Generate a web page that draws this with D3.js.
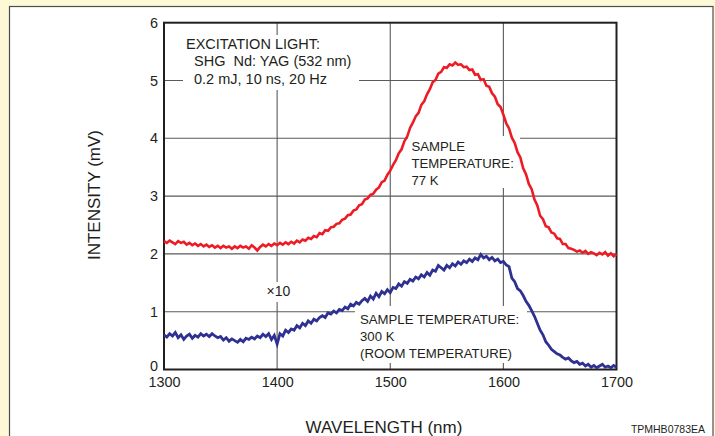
<!DOCTYPE html>
<html>
<head>
<meta charset="utf-8">
<script src="https://cdn.jsdelivr.net/npm/d3@7"></script>
<style>
  html, body { margin: 0; padding: 0; background: #fdf9d7; }
  svg { display: block; }
  text { font-family: "Liberation Sans", Arial, Helvetica, sans-serif; fill: #231f20; }
</style>
</head>
<body>
<svg id="chart" width="715" height="436"></svg>
<script>
// ---- data ----
const wavelengthStart = 1300;   // nm
const wavelengthStep = 2.5;     // nm
const xTicks = [1300, 1400, 1500, 1600, 1700];
const yTicks = [0, 1, 2, 3, 4, 5, 6];

// 77 K spectrum (mV)
const red77K = [
  2.22, 2.19, 2.23, 2.20, 2.17, 2.22, 2.19, 2.21,
  2.16, 2.19, 2.15, 2.18, 2.14, 2.17, 2.13, 2.16,
  2.12, 2.15, 2.11, 2.14, 2.10, 2.14, 2.11, 2.13,
  2.09, 2.13, 2.10, 2.14, 2.11, 2.13, 2.09, 2.15,
  2.11, 2.06, 2.12, 2.16, 2.13, 2.17, 2.14, 2.18,
  2.15, 2.19, 2.16, 2.20, 2.17, 2.21, 2.18, 2.23,
  2.20, 2.25, 2.23, 2.28, 2.26, 2.31, 2.29, 2.36,
  2.34, 2.41, 2.40, 2.46, 2.47, 2.52, 2.53, 2.59,
  2.61, 2.67, 2.68, 2.75, 2.77, 2.84, 2.86, 2.94,
  2.96, 3.02, 3.04, 3.11, 3.15, 3.24, 3.27, 3.37,
  3.44, 3.54, 3.62, 3.74, 3.81, 3.95, 4.03, 4.18,
  4.27, 4.38, 4.44, 4.58, 4.64, 4.76, 4.85, 4.97,
  5.01, 5.12, 5.15, 5.23, 5.22, 5.28, 5.26, 5.31,
  5.27, 5.28, 5.23, 5.24, 5.18, 5.19, 5.10, 5.11,
  5.01, 5.02, 4.91, 4.89, 4.78, 4.72, 4.59, 4.54,
  4.41, 4.26, 4.17, 4.01, 3.92, 3.76, 3.67, 3.48,
  3.38, 3.21, 3.12, 2.94, 2.84, 2.66, 2.60, 2.48,
  2.46, 2.37, 2.35, 2.27, 2.26, 2.17, 2.17, 2.10,
  2.09, 2.07, 2.04, 2.06, 2.02, 2.05, 2.00, 2.03,
  2.01, 1.98, 2.02, 1.99, 2.03, 1.97, 2.01, 1.96,
  2.00
];

// 300 K spectrum (x10, mV)
const blue300K = [
  0.60, 0.56, 0.62, 0.58, 0.64, 0.55, 0.60, 0.52,
  0.58, 0.61, 0.54, 0.59, 0.56, 0.62, 0.58, 0.61,
  0.57, 0.62, 0.58, 0.55, 0.57, 0.51, 0.55, 0.49,
  0.53, 0.50, 0.47, 0.52, 0.48, 0.54, 0.52, 0.56,
  0.53, 0.58, 0.55, 0.61, 0.57, 0.62, 0.52, 0.59,
  0.44, 0.62, 0.58, 0.68, 0.64, 0.70, 0.68, 0.76,
  0.72, 0.80, 0.76, 0.84, 0.80, 0.87, 0.84, 0.90,
  0.93, 0.90, 0.98, 0.96, 1.01, 0.98, 1.04, 1.02,
  1.08, 1.05, 1.13, 1.10, 1.16, 1.13, 1.19, 1.23,
  1.18, 1.27, 1.22, 1.32, 1.26, 1.35, 1.31, 1.38,
  1.33, 1.42, 1.40, 1.48, 1.44, 1.52, 1.49, 1.56,
  1.53, 1.60, 1.57, 1.64, 1.60, 1.68, 1.63, 1.72,
  1.70, 1.80, 1.76, 1.72, 1.80, 1.76, 1.83, 1.79,
  1.86, 1.82, 1.88, 1.85, 1.91, 1.87, 1.93, 1.90,
  1.99, 1.93, 1.96, 1.90, 1.94, 1.88, 1.91, 1.85,
  1.87, 1.81, 1.78, 1.58, 1.52, 1.40, 1.36, 1.28,
  1.18, 1.11, 1.02, 0.92, 0.80, 0.68, 0.60, 0.48,
  0.42, 0.35, 0.31, 0.27, 0.25, 0.21, 0.18, 0.20,
  0.15, 0.12, 0.14, 0.09, 0.11, 0.06, 0.09, 0.04,
  0.07, 0.03, 0.06, 0.09, 0.04, 0.06, 0.03, 0.07,
  0.04
];

// ---- chart ----
const svg = d3.select("#chart");
const W = 715, H = 436;
const mLeft = 164, mRight = 616.5, mTop = 22.7, mBottom = 369.5;

const x = d3.scaleLinear().domain([1300, 1700]).range([mLeft, mRight]);
const y = d3.scaleLinear().domain([0, 6]).range([mBottom, mTop]);

// panel
svg.append("rect").attr("x", 0).attr("y", 0).attr("width", W).attr("height", H).attr("fill", "#fdf9d7");
svg.append("rect").attr("x", 9.5).attr("y", 6.5).attr("width", 703.5).attr("height", 440)
  .attr("fill", "#ffffff").attr("stroke", "#4d4d4d").attr("stroke-width", 1.2);

// grid
const grid = svg.append("g").attr("stroke", "#5a5a5a").attr("stroke-width", 1.1);
[1400, 1500, 1600].forEach(v => {
  grid.append("line").attr("x1", x(v)).attr("x2", x(v)).attr("y1", mTop).attr("y2", mBottom);
});
[1, 2, 3, 4, 5].forEach(v => {
  grid.append("line").attr("x1", mLeft).attr("x2", mRight).attr("y1", y(v)).attr("y2", y(v));
});

// white label backgrounds (break the grid)
const boxes = [
  [183, 35, 176, 55],
  [262, 282, 34, 20],
  [408, 136, 112, 52],
  [355, 306, 172, 57]
];
boxes.forEach(b => svg.append("rect").attr("x", b[0]).attr("y", b[1]).attr("width", b[2]).attr("height", b[3]).attr("fill", "#fff"));

// frame
svg.append("rect").attr("x", mLeft).attr("y", mTop).attr("width", mRight - mLeft).attr("height", mBottom - mTop)
  .attr("fill", "none").attr("stroke", "#231f20").attr("stroke-width", 2);

// curves
const line = d3.line()
  .x((d, i) => x(wavelengthStart + i * wavelengthStep))
  .y(d => y(d));

svg.append("path").datum(red77K).attr("d", line)
  .attr("fill", "none").attr("stroke", "#ed1c24").attr("stroke-width", 2.6).attr("stroke-linejoin", "miter");
svg.append("path").datum(blue300K).attr("d", line)
  .attr("fill", "none").attr("stroke", "#2e3192").attr("stroke-width", 2.8).attr("stroke-linejoin", "miter");

// axes (labels only)
const xAxis = svg.append("g").attr("transform", `translate(0,${mBottom})`)
  .call(d3.axisBottom(x).tickValues(xTicks).tickSize(0).tickPadding(7.5).tickFormat(d3.format("d")));
xAxis.select(".domain").remove();
xAxis.selectAll("text").attr("font-size", 14.4).style("font-family", '"Liberation Sans", Arial, sans-serif').attr("fill", "#231f20");

const yAxis = svg.append("g").attr("transform", `translate(${mLeft},0)`)
  .call(d3.axisLeft(y).tickValues(yTicks).tickSize(0).tickPadding(6).tickFormat(d3.format("d")));
yAxis.select(".domain").remove();
yAxis.selectAll("text").attr("font-size", 14.4).style("font-family", '"Liberation Sans", Arial, sans-serif').attr("fill", "#231f20");
yAxis.selectAll(".tick").filter(d => d === 0).select("text").attr("dy", "0.08em");

// titles
svg.append("text").attr("x", 384).attr("y", 432.5).attr("text-anchor", "middle")
  .attr("font-size", 17).text("WAVELENGTH (nm)");
svg.append("text").attr("transform", "translate(100,195) rotate(-90)").attr("text-anchor", "middle")
  .attr("font-size", 17).text("INTENSITY (mV)");
svg.append("text").attr("x", 705).attr("y", 433).attr("text-anchor", "end")
  .attr("font-size", 10.5).text("TPMHB0783EA");

// annotations
function block(xp, ys, lines, fs) {
  lines.forEach((t, i) => svg.append("text").attr("x", xp[i]).attr("y", ys[i])
    .attr("font-size", fs).style("white-space", "pre").text(t));
}
block([186, 194, 194], [48.5, 66.3, 83.5],
  ["EXCITATION LIGHT:", "SHG  Nd: YAG (532 nm)", "0.2 mJ, 10 ns, 20 Hz"], 14.5);
block([411.5, 411.5, 411.5], [151, 168, 185],
  ["SAMPLE", "TEMPERATURE:", "77 K"], 13.2);
block([360, 360, 360], [323.5, 340.7, 358],
  ["SAMPLE TEMPERATURE:", "300 K", "(ROOM TEMPERATURE)"], 13.2);
svg.append("text").attr("x", 266.5).attr("y", 296).attr("font-size", 14).text("×10");
</script>
</body>
</html>
